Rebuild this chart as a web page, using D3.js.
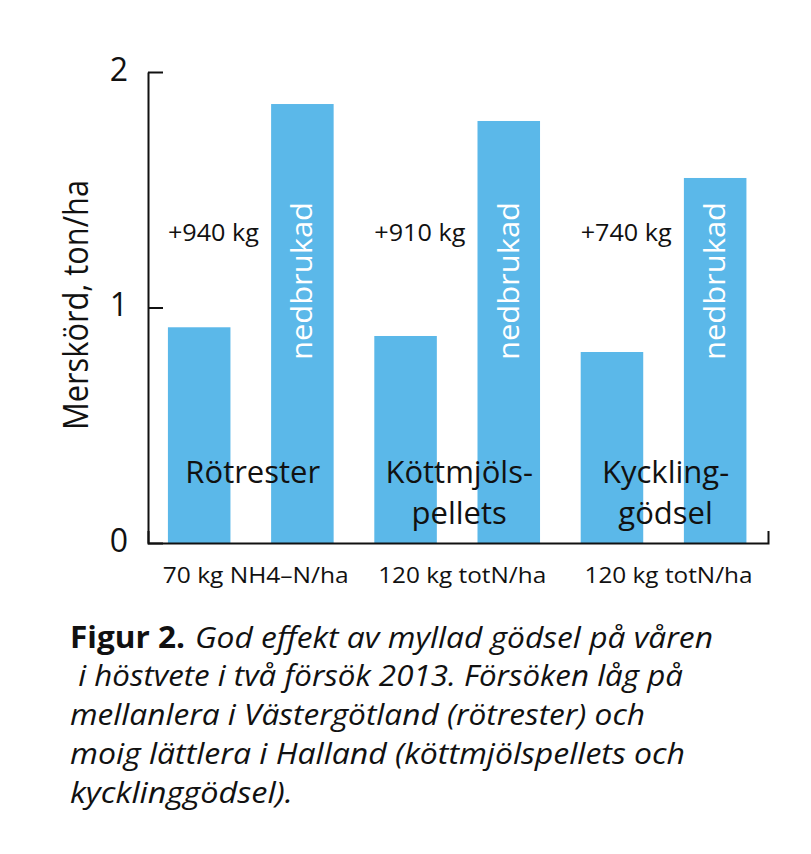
<!DOCTYPE html>
<html>
<head>
<meta charset="utf-8">
<script src="https://cdn.jsdelivr.net/npm/d3@7"></script>
<style>
  html, body { margin: 0; padding: 0; background: #fff; }
  svg { display: block; }
  text { font-family: "Open Sans", "Noto Sans", sans-serif; fill: #111; }
</style>
</head>
<body>
<svg id="chart" width="811" height="854"></svg>
<script>
// ---- data ----
const categoryLines = [["Rötrester"], ["Köttmjöls-", "pellets"], ["Kyckling-", "gödsel"]];
const nRates = ["70 kg NH4–N/ha", "120 kg totN/ha", "120 kg totN/ha"];
const mylladValues = [0.916, 0.879, 0.811];
const nedbrukadValues = [1.864, 1.792, 1.55];
const gainLabels = ["+940 kg", "+910 kg", "+740 kg"];
const tallBarLabel = "nedbrukad";
const yTicks = [0, 1, 2];
const yLabel = "Merskörd, ton/ha";
const captionBold = "Figur 2.";
const captionLines = [
  "God effekt av myllad gödsel på våren",
  " i höstvete i två försök 2013. Försöken låg på",
  "mellanlera i Västergötland (rötrester) och",
  "moig lättlera i Halland (köttmjölspellets och",
  "kycklinggödsel)."
];

// ---- build bar table ----
const bars = [];
categoryLines.forEach((c, i) => {
  bars.push({ key: i + "a", group: i, value: mylladValues[i], kind: "myllad" });
  bars.push({ key: i + "b", group: i, value: nedbrukadValues[i], kind: "nedbrukad" });
});

const svg = d3.select("#chart");
const blue = "#5bb8e9";

const x = d3.scaleBand()
  .domain(bars.map(d => d.key))
  .range([148, 768])
  .paddingInner(0.394)
  .paddingOuter(0.201)
  .align(0.48);

const y = d3.scaleLinear().domain([0, 2]).range([543, 72]);

// bars
svg.append("g").selectAll("rect").data(bars).join("rect")
  .attr("x", d => x(d.key))
  .attr("y", d => y(d.value))
  .attr("width", x.bandwidth())
  .attr("height", d => y(0) - y(d.value))
  .attr("fill", blue);

// y axis
const yAxis = svg.append("g")
  .attr("transform", "translate(148,0)")
  .call(d3.axisLeft(y).tickValues(yTicks).tickFormat(d3.format("d"))
    .tickSize(-15).tickSizeOuter(0).tickPadding(20));
yAxis.select(".domain").attr("stroke", "#111").attr("stroke-width", 2);
yAxis.selectAll(".tick line").attr("stroke", "#111").attr("stroke-width", 2);
yAxis.selectAll(".tick text")
  .style("font-family", '"Open Sans", sans-serif')
  .attr("font-size", 32).attr("fill", "#111").attr("dy", "0.26em");

// x axis (line with right end tick)
const xAxis = svg.append("g")
  .attr("transform", "translate(0,543)")
  .call(d3.axisBottom(x).tickValues([]).tickSizeOuter(-12));
xAxis.select(".domain").attr("stroke", "#111").attr("stroke-width", 2);

// helper centers
const groupCenter = i => (x(i + "a") + x(i + "b") + x.bandwidth()) / 2;

// y label
svg.append("text")
  .attr("transform", `translate(88,305) rotate(-90)`)
  .attr("text-anchor", "middle")
  .attr("font-size", 34)
  .attr("textLength", 250).attr("lengthAdjust", "spacingAndGlyphs")
  .text(yLabel);

// gain labels (left of each group, above the short bar)
svg.append("g").selectAll("text").data(gainLabels).join("text")
  .attr("x", (d, i) => x(i + "a"))
  .attr("y", 241)
  .attr("font-size", 24)
  .attr("textLength", 91).attr("lengthAdjust", "spacingAndGlyphs")
  .text(d => d);

// "nedbrukad" rotated inside tall bars
svg.append("g").selectAll("text").data(bars.filter(d => d.kind === "nedbrukad")).join("text")
  .attr("transform", d => `translate(${x(d.key) + x.bandwidth() / 2 + 10},281) rotate(-90)`)
  .attr("text-anchor", "middle")
  .attr("font-size", 30)
  .attr("textLength", 158).attr("lengthAdjust", "spacingAndGlyphs")
  .style("fill", "#fff")
  .text(tallBarLabel);

// category labels
categoryLines.forEach((lines, i) => {
  lines.forEach((ln, j) => {
    svg.append("text")
      .attr("x", groupCenter(i) + 2)
      .attr("y", 483 + j * 41)
      .attr("text-anchor", "middle")
      .attr("font-size", 31)
      .text(ln);
  });
});

// N-rate labels below axis
svg.append("g").selectAll("text").data(nRates).join("text")
  .attr("x", (d, i) => groupCenter(i) + 5)
  .attr("y", 583)
  .attr("text-anchor", "middle")
  .attr("font-size", 22)
  .attr("textLength", (d, i) => i === 0 ? 186 : 168).attr("lengthAdjust", "spacingAndGlyphs")
  .text(d => d);

// caption
const capY = [648, 686, 725, 764, 803];
const capX0 = [195, 70, 70, 70, 70];
const capX1 = [713, 683, 645, 685, 293];
svg.append("text")
  .attr("x", 70).attr("y", capY[0])
  .attr("font-size", 30).attr("font-weight", "bold")
  .attr("textLength", 115).attr("lengthAdjust", "spacingAndGlyphs")
  .text(captionBold);
captionLines.forEach((ln, i) => {
  svg.append("text")
    .attr("x", capX0[i]).attr("y", capY[i])
    .attr("font-size", 30).attr("font-style", "italic")
    .attr("xml:space", "preserve").style("white-space", "pre")
    .attr("textLength", capX1[i] - capX0[i]).attr("lengthAdjust", "spacingAndGlyphs")
    .text(ln);
});
</script>
</body>
</html>
